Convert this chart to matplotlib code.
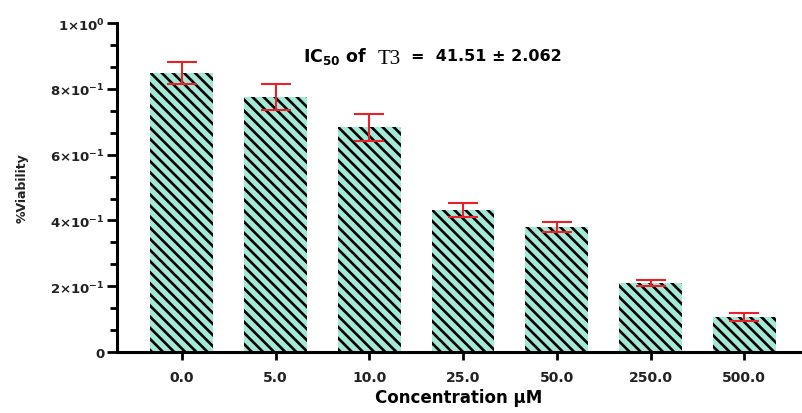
import matplotlib
matplotlib.use("Agg")
import matplotlib.pyplot as plt
from matplotlib.ticker import MultipleLocator, FixedLocator

# data
conc_labels = ["0.0", "5.0", "10.0", "25.0", "50.0", "250.0", "500.0"]
viability = [0.848, 0.776, 0.684, 0.432, 0.380, 0.210, 0.106]
errors = [0.034, 0.039, 0.041, 0.020, 0.014, 0.009, 0.012]
ytick_vals = [0, 0.2, 0.4, 0.6, 0.8, 1.0]
ytick_labels = ["0", r"$2{\times}10^{-1}$", r"$4{\times}10^{-1}$", r"$6{\times}10^{-1}$",
                r"$8{\times}10^{-1}$", r"$1{\times}10^{0}$"]

plt.rcParams["font.family"] = ["DejaVu Sans"]
plt.rcParams["font.weight"] = "bold"
plt.rcParams["mathtext.fontset"] = "custom"
plt.rcParams["mathtext.rm"] = "DejaVu Sans:bold"
plt.rcParams["mathtext.it"] = "DejaVu Sans:bold"
plt.rcParams["mathtext.bf"] = "DejaVu Sans:bold"
plt.rcParams["hatch.linewidth"] = 1.9
plt.rcParams["hatch.color"] = "black"

fig = plt.figure(figsize=(8.02, 4.14), dpi=100)
ax = fig.add_axes([0.146, 0.147, 0.851, 0.795])

x = list(range(len(conc_labels)))
ax.bar(x, viability, width=0.67, color="#a3e9d6", edgecolor="black",
       hatch="\\\\\\", linewidth=0, zorder=2)
ax.errorbar(x, viability, yerr=errors, fmt="none", ecolor="#e8202a",
            elinewidth=1.5, capsize=11, capthick=1.5, zorder=3)

ax.set_xlim(-0.69, 6.59)
ax.set_ylim(0, 1.0)
ax.set_xticks(x)
ax.set_xticklabels(conc_labels, fontsize=10, fontweight="bold", color="#222222")
ax.yaxis.set_major_locator(FixedLocator(ytick_vals))
ax.set_yticklabels(ytick_labels, fontsize=9.5, color="#222222")
ax.yaxis.set_minor_locator(MultipleLocator(0.2 / 3))

for s in ["top", "right"]:
    ax.spines[s].set_visible(False)
for s in ["left", "bottom"]:
    ax.spines[s].set_linewidth(2.2)

ax.tick_params(axis="y", which="major", length=7, width=2, pad=2)
ax.tick_params(axis="y", which="minor", length=5, width=2)
ax.tick_params(axis="x", which="major", length=6, width=2, pad=7)

ax.set_ylabel("%Viability", fontsize=9, fontweight="bold", color="#222222")
ax.yaxis.set_label_coords(-0.13, 0.5)
ax.set_xlabel("Concentration \u03bcM", fontsize=12, fontweight="bold", labelpad=3)

ax.text(1.29, 0.90, r"IC$_{50}$ of", fontsize=12.5, fontweight="bold",
        ha="left", va="center")
ax.text(2.09, 0.893, "T3", fontsize=15, family="Liberation Serif",
        fontweight="normal", ha="left", va="center")
ax.text(2.45, 0.90, "=  41.51 \u00b1 2.062", fontsize=11.5, fontweight="bold",
        ha="left", va="center")

fig.savefig("out.png", dpi=100)
